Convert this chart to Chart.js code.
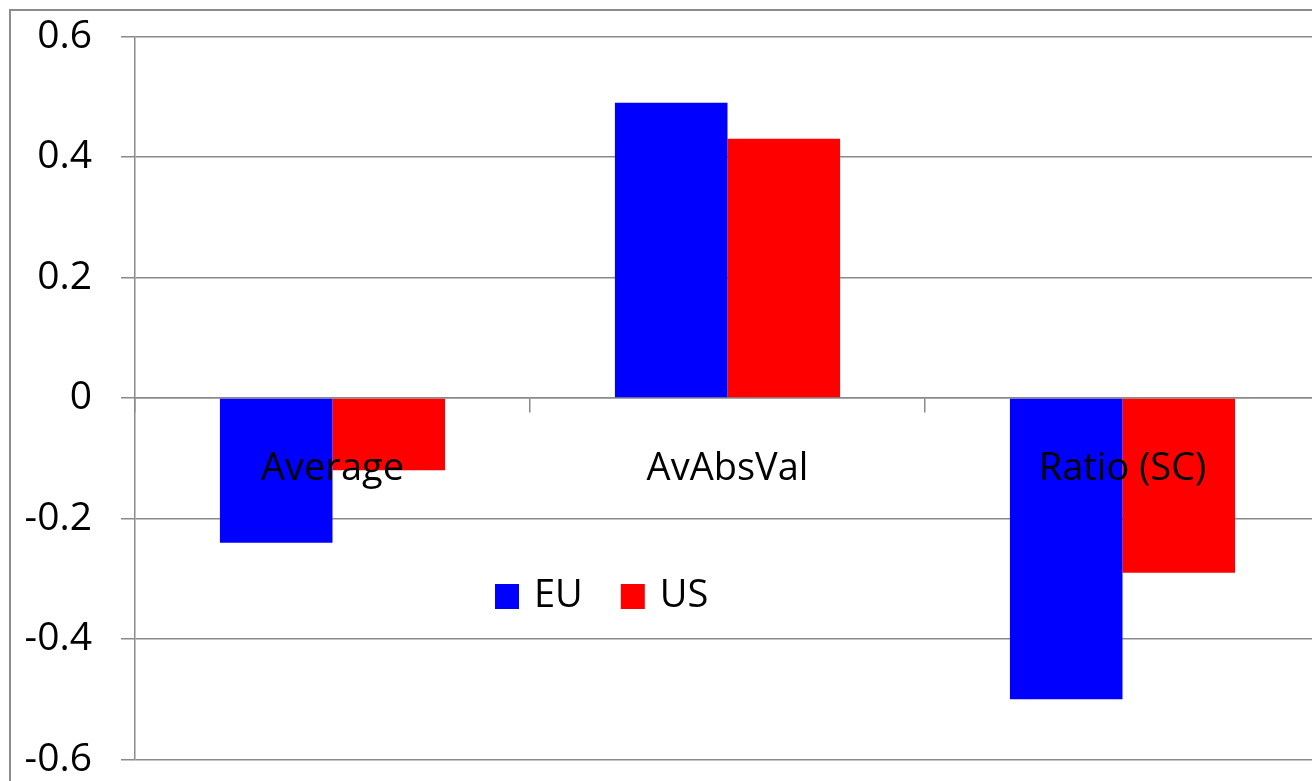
<!DOCTYPE html>
<html>
<head>
<meta charset="utf-8">
<script src="https://cdn.jsdelivr.net/npm/chart.js@4.4.1/dist/chart.umd.min.js"></script>
<style>
  html, body { margin: 0; padding: 0; background: #fff; overflow: hidden; width: 1312px; height: 781px; }
  #frame { position: absolute; left: 9px; top: 9px; width: 1400px; height: 900px; border: 2px solid #8c8c8c; box-sizing: border-box; }
  #wrap { position: absolute; left: 0; top: -16px; width: 1330px; height: 828px; }
</style>
</head>
<body>
<div id="frame"></div>
<div id="wrap"><canvas id="c" width="1330" height="828"></canvas></div>
<script>
// Categories and series
const categories = ['Average', 'AvAbsVal', 'Ratio (SC)'];
const seriesNames = ['EU', 'US'];
const euValues = [-0.24, 0.49, -0.50];
const usValues = [-0.12, 0.43, -0.29];
const yTickValues = [-0.6, -0.4, -0.2, 0, 0.2, 0.4, 0.6];
const yTickLabels = ['-0.6', '-0.4', '-0.2', '0', '0.2', '0.4', '0.6'];

const FONT = '"Open Sans", "Liberation Sans", sans-serif';
const GRID = '#8a8a8a';

// Legend drawn inside the plot area
const innerLegend = {
  id: 'innerLegend',
  afterDatasetsDraw(chart, args, opts) {
    const ctx = chart.ctx;
    ctx.save();
    ctx.font = `${opts.size}px ${FONT}`;
    ctx.textBaseline = 'middle';
    ctx.textAlign = 'left';
    let x = opts.x;
    chart.data.datasets.forEach(ds => {
      ctx.fillStyle = ds.backgroundColor;
      ctx.fillRect(x, opts.y - 12, 24, 25);
      ctx.fillStyle = '#000';
      ctx.fillText(ds.label, x + 39, opts.y);
      x += 39 + ctx.measureText(ds.label).width + 38;
    });
    ctx.restore();
  }
};

new Chart(document.getElementById('c'), {
  type: 'bar',
  data: {
    labels: categories,
    datasets: [
      { label: seriesNames[0], data: euValues, backgroundColor: '#0000ff' },
      { label: seriesNames[1], data: usValues, backgroundColor: '#ff0000' }
    ]
  },
  options: {
    responsive: false,
    animation: false,
    layout: { padding: { left: 0, top: 0, right: 10, bottom: 0 } },
    categoryPercentage: 0.57,
    barPercentage: 1.0,
    plugins: {
      legend: { display: false },
      tooltip: { enabled: false },
      innerLegend: { x: 495, y: 612, size: 38 }
    },
    scales: {
      x: {
        position: { y: 0 },
        offset: true,
        grid: { display: true, drawOnChartArea: false, drawTicks: true, tickLength: 14, offset: true, color: GRID, lineWidth: 1.5 },
        border: { display: true, color: GRID, width: 1.5 },
        ticks: { z: 1, color: '#000', font: { family: FONT, size: 38 }, padding: 34, maxRotation: 0, autoSkip: false }
      },
      y: {
        min: -0.6,
        max: 0.6,
        afterFit(scale) { scale.width = 135; },
        afterBuildTicks(scale) { scale.ticks = yTickValues.map(v => ({ value: v })); },
        grid: { color: GRID, lineWidth: 1.5, tickLength: 14 },
        border: { display: true, color: GRID, width: 1.5 },
        ticks: {
          color: '#000',
          font: { family: FONT, size: 39 },
          padding: 29,
          callback: (v) => yTickLabels[yTickValues.findIndex(t => Math.abs(t - v) < 1e-9)]
        }
      }
    }
  },
  plugins: [innerLegend]
});
</script>
</body>
</html>
